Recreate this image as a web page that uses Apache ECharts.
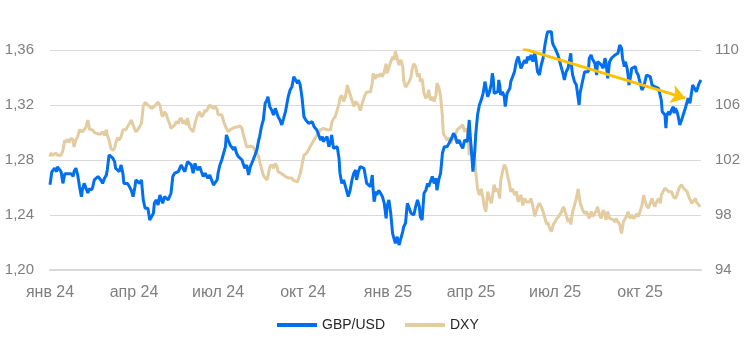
<!DOCTYPE html>
<html><head><meta charset="utf-8">
<script src="https://cdn.jsdelivr.net/npm/echarts@6/dist/echarts.min.js"></script>
<style>html,body{margin:0;padding:0;background:#fff}#c{width:746px;height:355px}</style>
</head><body><div id="c"></div>
<script>
// ---- data (x = days since startDate) ----
const startDate = '2024-01-01';
const endDate = '2025-12-06';
const tickDates = ['2024-01-01','2024-04-01','2024-07-01','2024-10-01','2025-01-01','2025-04-01','2025-07-01','2025-10-01'];
const tickLabels = ['янв 24','апр 24','июл 24','окт 24','янв 25','апр 25','июл 25','окт 25'];
const seriesNames = ['GBP/USD', 'DXY'];

const gbpUsd = [[0,1.262],[2,1.2715],[5,1.274],[7,1.2715],[8,1.275],[10,1.274],[12,1.2715],[14,1.263],[16,1.270],[17,1.269],[19,1.270],[21,1.269],[23,1.270],[25,1.268],[26,1.2715],[28,1.274],[30,1.269],[32,1.2606],[34,1.2533],[35,1.258],[37,1.263],[39,1.262],[41,1.256],[43,1.2595],[44,1.258],[46,1.2595],[48,1.2655],[50,1.2667],[52,1.268],[53,1.269],[55,1.2655],[57,1.263],[59,1.2667],[61,1.269],[62,1.2727],[64,1.2837],[66,1.285],[68,1.2813],[70,1.2788],[71,1.274],[73,1.2727],[75,1.2715],[77,1.2764],[78,1.2776],[79,1.270],[80,1.263],[82,1.262],[84,1.263],[86,1.2606],[88,1.258],[90,1.2533],[92,1.2606],[93,1.2655],[95,1.2643],[97,1.263],[99,1.2655],[101,1.251],[103,1.2449],[104,1.2436],[106,1.2449],[108,1.2364],[110,1.2352],[112,1.2413],[113,1.2485],[115,1.251],[117,1.2473],[119,1.2546],[121,1.2533],[122,1.2485],[124,1.2533],[126,1.2546],[128,1.251],[130,1.2522],[131,1.2558],[133,1.268],[135,1.2704],[137,1.2708],[139,1.2715],[140,1.2727],[142,1.2764],[144,1.2771],[146,1.2715],[148,1.2764],[149,1.2788],[151,1.28],[153,1.2764],[155,1.2704],[157,1.2776],[158,1.2752],[160,1.2727],[162,1.2752],[164,1.2715],[166,1.268],[168,1.2704],[169,1.2715],[171,1.2667],[173,1.2691],[175,1.2655],[177,1.2618],[179,1.263],[181,1.2655],[182,1.2704],[184,1.2764],[186,1.28],[188,1.2788],[190,1.2897],[191,1.2982],[193,1.2945],[195,1.2909],[197,1.2921],[199,1.2873],[200,1.2897],[202,1.2849],[204,1.2824],[206,1.2836],[208,1.28],[209,1.2776],[211,1.274],[213,1.2764],[215,1.2691],[217,1.2752],[218,1.2756],[220,1.28],[222,1.2836],[224,1.2873],[226,1.2945],[227,1.297],[229,1.3042],[231,1.3091],[233,1.3212],[235,1.3236],[236,1.326],[238,1.3188],[240,1.3164],[242,1.3127],[244,1.3176],[246,1.3164],[247,1.3115],[249,1.3091],[251,1.3055],[253,1.3103],[255,1.3152],[256,1.3188],[258,1.326],[260,1.3309],[262,1.3333],[264,1.3406],[266,1.3394],[268,1.3358],[269,1.3382],[271,1.3345],[273,1.3249],[275,1.3115],[277,1.3091],[278,1.3079],[280,1.3067],[282,1.3055],[284,1.3079],[286,1.3042],[287,1.303],[289,1.3018],[291,1.3006],[293,1.2945],[295,1.297],[296,1.2933],[298,1.2921],[300,1.297],[302,1.2897],[304,1.2933],[305,1.2982],[307,1.2885],[309,1.2873],[311,1.2897],[313,1.2812],[314,1.2704],[316,1.263],[318,1.2655],[320,1.2606],[322,1.2558],[323,1.2533],[325,1.258],[327,1.2655],[329,1.2704],[331,1.2727],[332,1.2655],[334,1.2715],[336,1.2752],[338,1.2764],[340,1.274],[341,1.2752],[343,1.263],[345,1.2643],[347,1.2606],[349,1.2691],[350,1.258],[351,1.2497],[353,1.257],[354,1.2546],[356,1.258],[358,1.2558],[360,1.2533],[362,1.2485],[364,1.2376],[365,1.2461],[367,1.251],[369,1.2413],[371,1.2267],[373,1.2218],[374,1.2194],[376,1.2242],[378,1.2182],[380,1.217],[382,1.2279],[383,1.2315],[385,1.234],[387,1.2485],[389,1.2497],[391,1.2413],[392,1.2425],[394,1.24],[396,1.2461],[398,1.251],[400,1.2461],[401,1.2388],[403,1.2364],[405,1.2558],[407,1.258],[409,1.263],[410,1.2606],[412,1.2643],[414,1.268],[416,1.263],[418,1.2667],[419,1.258],[421,1.2655],[423,1.2704],[425,1.2849],[427,1.2897],[428,1.2909],[430,1.2897],[432,1.2921],[434,1.2945],[436,1.2958],[437,1.2994],[439,1.297],[441,1.2921],[443,1.2945],[445,1.2909],[447,1.2885],[449,1.2945],[450,1.2933],[452,1.2933],[454,1.3091],[455,1.2982],[457,1.2812],[458,1.2715],[460,1.286],[461,1.2982],[462,1.3055],[463,1.3127],[465,1.32],[467,1.3236],[469,1.3285],[470,1.3321],[471,1.337],[473,1.3297],[474,1.326],[476,1.3297],[478,1.3358],[479,1.343],[480,1.3394],[481,1.3285],[483,1.3273],[485,1.3297],[486,1.3382],[487,1.3345],[488,1.3273],[490,1.3297],[492,1.326],[493,1.3188],[495,1.3285],[497,1.3273],[498,1.3321],[499,1.337],[501,1.3406],[503,1.3442],[505,1.3515],[507,1.3552],[508,1.354],[510,1.3467],[512,1.3479],[514,1.3527],[516,1.3503],[517,1.3552],[519,1.3527],[521,1.3564],[523,1.3515],[525,1.3576],[526,1.354],[528,1.3442],[530,1.3418],[532,1.3491],[534,1.354],[536,1.3636],[538,1.3709],[539,1.3733],[541,1.3745],[543,1.3733],[544,1.366],[545,1.3636],[547,1.3612],[548,1.36],[550,1.3564],[552,1.3552],[554,1.3467],[556,1.3418],[557,1.3382],[559,1.3442],[561,1.3467],[563,1.354],[564,1.3576],[565,1.3467],[566,1.3418],[568,1.337],[570,1.3345],[571,1.3297],[573,1.32],[574,1.3285],[575,1.3297],[577,1.3382],[579,1.3442],[581,1.343],[583,1.3442],[584,1.354],[586,1.3564],[587,1.354],[588,1.3527],[590,1.3503],[592,1.3418],[593,1.3515],[595,1.3527],[597,1.3491],[599,1.3467],[601,1.354],[602,1.3515],[604,1.3394],[606,1.3515],[608,1.354],[610,1.354],[612,1.3564],[613,1.3552],[615,1.3576],[617,1.3636],[619,1.3612],[620,1.354],[622,1.3479],[623,1.3515],[625,1.3467],[626,1.3418],[627,1.3345],[629,1.3418],[630,1.3467],[632,1.3479],[634,1.3479],[635,1.3442],[637,1.3418],[639,1.3418],[641,1.3309],[643,1.3333],[644,1.3345],[646,1.3418],[648,1.343],[650,1.3406],[652,1.3345],[653,1.3333],[655,1.3333],[657,1.3333],[659,1.3321],[661,1.3309],[662,1.3236],[663,1.3152],[664,1.314],[666,1.3127],[667,1.3031],[668,1.3127],[670,1.3152],[671,1.3127],[673,1.3164],[675,1.3188],[676,1.314],[677,1.3176],[679,1.3152],[680,1.3127],[682,1.3055],[684,1.3091],[686,1.3103],[688,1.3176],[690,1.3224],[691,1.3249],[693,1.3212],[695,1.3212],[696,1.3345],[698,1.3358],[700,1.3297],[702,1.3285],[703,1.3358],[705,1.3382]];

const dxy = [[0,102.25],[1,102.5],[3,102.35],[5,102.25],[6,102.5],[8,102.35],[10,102.25],[12,102.35],[14,102.7],[16,103.45],[17,103.3],[19,103.5],[21,103.3],[23,103.6],[25,103.45],[26,102.95],[28,103.45],[30,103.7],[32,104.2],[34,104.3],[35,104.05],[37,104.2],[39,104.4],[41,104.9],[43,104.2],[44,104.3],[46,104.2],[48,104.0],[50,103.9],[52,103.9],[53,103.8],[55,103.9],[57,104.05],[59,103.8],[61,104.2],[62,103.8],[64,103.45],[66,102.85],[68,102.7],[70,102.85],[71,103.2],[73,103.6],[75,103.45],[77,103.7],[79,104.2],[80,104.3],[82,104.2],[84,104.3],[86,104.65],[88,104.9],[90,104.55],[92,104.2],[93,104.05],[95,104.2],[97,104.15],[99,104.65],[101,105.9],[103,106.2],[104,106.1],[106,106.0],[108,105.9],[110,105.75],[112,105.65],[113,105.9],[115,106.0],[117,106.2],[119,106.0],[121,105.3],[122,105.15],[124,105.5],[126,105.3],[128,104.9],[130,104.55],[131,104.3],[133,104.4],[135,104.55],[137,104.8],[139,104.65],[140,104.9],[142,105.05],[144,104.65],[146,104.9],[148,104.55],[149,105.05],[151,104.4],[153,104.2],[155,104.05],[157,104.65],[158,104.9],[160,105.3],[162,105.5],[164,105.15],[166,105.3],[168,105.65],[169,105.5],[171,105.75],[173,106.0],[175,105.9],[177,105.75],[179,105.9],[181,105.65],[182,105.3],[184,105.4],[186,105.3],[188,104.8],[190,104.9],[191,104.3],[193,104.05],[195,104.2],[197,104.3],[199,104.35],[200,104.3],[202,104.4],[204,104.35],[206,104.45],[208,104.3],[209,103.95],[211,103.45],[213,102.95],[215,103.05],[217,103.0],[218,103.1],[220,102.95],[222,102.7],[224,102.5],[226,102.25],[227,101.9],[229,101.4],[231,100.9],[233,100.7],[235,100.55],[236,100.8],[238,101.5],[240,101.65],[242,101.4],[244,101.75],[246,101.5],[247,101.15],[249,101.25],[251,101.0],[253,100.9],[255,100.8],[256,100.9],[258,100.7],[260,100.8],[262,100.7],[263,100.55],[268,100.4],[271,101.0],[275,102.35],[278,102.5],[282,103.0],[286,103.45],[289,103.8],[293,104.2],[296,104.3],[300,104.2],[304,104.2],[305,104.7],[307,105.0],[309,105.15],[313,106.1],[314,106.5],[316,106.7],[318,106.25],[320,106.6],[322,107.45],[323,107.2],[325,107.1],[327,106.35],[329,105.9],[331,106.25],[332,106.35],[334,106.0],[336,105.6],[338,106.1],[341,106.7],[343,106.95],[345,106.85],[347,106.95],[349,107.6],[350,108.3],[352,107.9],[354,108.2],[356,108.05],[358,108.3],[360,108.05],[362,108.4],[364,109.0],[365,108.3],[367,108.7],[369,109.15],[371,109.5],[373,109.3],[374,109.9],[376,109.4],[378,108.9],[380,109.3],[382,108.8],[383,107.8],[385,107.3],[387,107.3],[389,107.7],[391,108.05],[392,108.55],[394,109.0],[396,108.8],[398,108.05],[400,108.3],[401,107.7],[403,107.9],[405,106.85],[407,106.5],[409,106.7],[410,107.1],[412,106.35],[414,106.6],[416,106.25],[418,106.7],[419,107.6],[421,107.3],[423,106.6],[425,105.15],[426,103.9],[428,103.7],[430,103.45],[432,103.6],[434,103.2],[436,103.7],[437,103.45],[439,103.8],[441,104.2],[443,104.2],[447,104.55],[449,104.05],[450,104.3],[452,104.05],[453,103.45],[454,102.35],[456,103.1],[458,102.6],[460,102.1],[461,101.15],[463,99.9],[465,99.45],[467,99.9],[469,99.2],[470,98.7],[472,98.25],[474,99.7],[476,99.2],[478,98.85],[479,99.3],[481,100.2],[483,99.7],[485,99.9],[487,99.2],[488,100.45],[490,101.15],[492,101.65],[494,101.4],[496,100.7],[497,100.45],[499,99.7],[501,99.9],[503,99.45],[505,99.7],[507,98.95],[508,99.2],[510,99.45],[512,98.7],[514,99.2],[516,98.95],[517,99.05],[519,98.95],[521,99.2],[523,98.6],[525,97.9],[526,98.0],[528,98.6],[530,98.85],[532,98.6],[534,98.25],[536,97.75],[538,97.3],[539,97.5],[541,97.05],[543,96.8],[545,97.3],[547,97.5],[548,97.65],[550,97.75],[552,98.0],[554,98.25],[556,98.6],[557,98.5],[559,98.0],[561,97.5],[563,97.75],[564,97.3],[566,98.25],[568,98.7],[570,99.2],[572,99.9],[574,98.95],[575,98.7],[577,98.35],[579,98.1],[581,98.25],[583,97.9],[584,97.75],[586,98.25],[588,97.9],[590,97.9],[592,98.35],[593,98.6],[595,98.0],[597,97.75],[599,98.35],[601,98.1],[602,97.65],[604,98.25],[606,97.75],[608,97.75],[610,97.65],[612,97.5],[613,97.75],[615,97.5],[617,97.3],[619,96.65],[621,97.5],[623,97.45],[625,98.0],[626,98.25],[628,97.75],[630,98.0],[632,97.75],[634,97.9],[635,98.1],[637,97.9],[639,98.25],[641,98.7],[643,99.45],[644,99.1],[646,98.7],[648,98.5],[650,98.85],[652,99.2],[653,98.95],[655,98.6],[657,98.95],[659,99.2],[661,98.85],[662,99.45],[664,99.7],[666,99.95],[668,100.05],[670,99.7],[671,99.6],[673,99.7],[675,99.35],[677,99.2],[679,99.45],[680,99.7],[682,100.05],[684,100.2],[686,99.95],[688,100.05],[690,99.7],[691,99.45],[693,99.35],[695,98.85],[697,98.95],[699,99.2],[700,98.95],[702,99.05],[704,98.6]];

const trendArrow = [['2025-05-27', 1.361], ['2025-11-19', 1.325]];

// ---- helpers ----
function parseDate(s) { const p = s.split('-').map(Number); return new Date(p[0], p[1] - 1, p[2]); }
function dayToTime(d) { const s = parseDate(startDate); return new Date(s.getFullYear(), s.getMonth(), s.getDate() + d).getTime(); }
const tickTimes = tickDates.map(s => parseDate(s).getTime());
const FONT = "'Liberation Sans', Arial, sans-serif";
const BLUE = '#0070F0', TAN = '#E2CCA0', GOLD = '#FFC000';

const chart = echarts.init(document.getElementById('c'), null, { renderer: 'canvas' });
chart.setOption({
  animation: false,
  backgroundColor: '#ffffff',
  textStyle: { fontFamily: FONT },
  grid: { left: 50, right: 45, top: 50, bottom: 85, containLabel: false },
  legend: {
    data: [
      { name: seriesNames[0], icon: 'rect', itemStyle: { color: BLUE } },
      { name: seriesNames[1], icon: 'rect', itemStyle: { color: TAN } }
    ],
    top: 313,
    left: 272,
    itemWidth: 40,
    itemHeight: 4,
    itemGap: 20,
    textStyle: { fontSize: 14, color: '#262626', fontFamily: FONT }
  },
  xAxis: {
    type: 'value',
    min: parseDate(startDate).getTime(),
    max: parseDate(endDate).getTime(),
    axisLine: { show: true, onZero: false, lineStyle: { color: '#d9d9d9', width: 2 } },
    axisTick: { show: false },
    splitLine: { show: false },
    axisLabel: {
      customValues: tickTimes,
      formatter: v => { const i = tickTimes.indexOf(v); return i >= 0 ? tickLabels[i] : ''; },
      color: '#7f7f7f', fontSize: 16, margin: 15, fontFamily: FONT, hideOverlap: false
    }
  },
  yAxis: [
    {
      type: 'value', min: 1.20, max: 1.36, interval: 0.04, position: 'left',
      axisLine: { show: false }, axisTick: { show: false },
      splitLine: { show: true, lineStyle: { color: '#d9d9d9', width: 1 } },
      axisLabel: { formatter: v => v.toFixed(2).replace('.', ','), color: '#7f7f7f', fontSize: 15, margin: 16, fontFamily: FONT }
    },
    {
      type: 'value', min: 94, max: 110, interval: 4, position: 'right',
      axisLine: { show: false }, axisTick: { show: false },
      splitLine: { show: false },
      axisLabel: { color: '#7f7f7f', fontSize: 15, margin: 14, fontFamily: FONT }
    }
  ],
  series: [
    {
      name: seriesNames[0], type: 'line', yAxisIndex: 0, clip: false,
      symbol: 'none', showSymbol: false, z: 3,
      lineStyle: { color: BLUE, width: 3 }, itemStyle: { color: BLUE },
      data: gbpUsd.map(([d, v]) => [dayToTime(d), v])
    },
    {
      name: seriesNames[1], type: 'line', yAxisIndex: 1, clip: false,
      symbol: 'none', showSymbol: false, z: 2,
      lineStyle: { color: TAN, width: 3 }, itemStyle: { color: TAN },
      data: dxy.map(([d, v]) => [dayToTime(d), v])
    },
    {
      name: 'trend', type: 'lines', coordinateSystem: 'cartesian2d',
      xAxisIndex: 0, yAxisIndex: 0, z: 5, silent: true,
      symbol: ['none', 'arrow'], symbolSize: 14,
      lineStyle: { color: GOLD, width: 3, opacity: 1, curveness: 0 },
      itemStyle: { color: GOLD },
      data: [{ coords: trendArrow.map(([d, v]) => [parseDate(d).getTime(), v]) }]
    }
  ]
});
</script>
</body></html>
